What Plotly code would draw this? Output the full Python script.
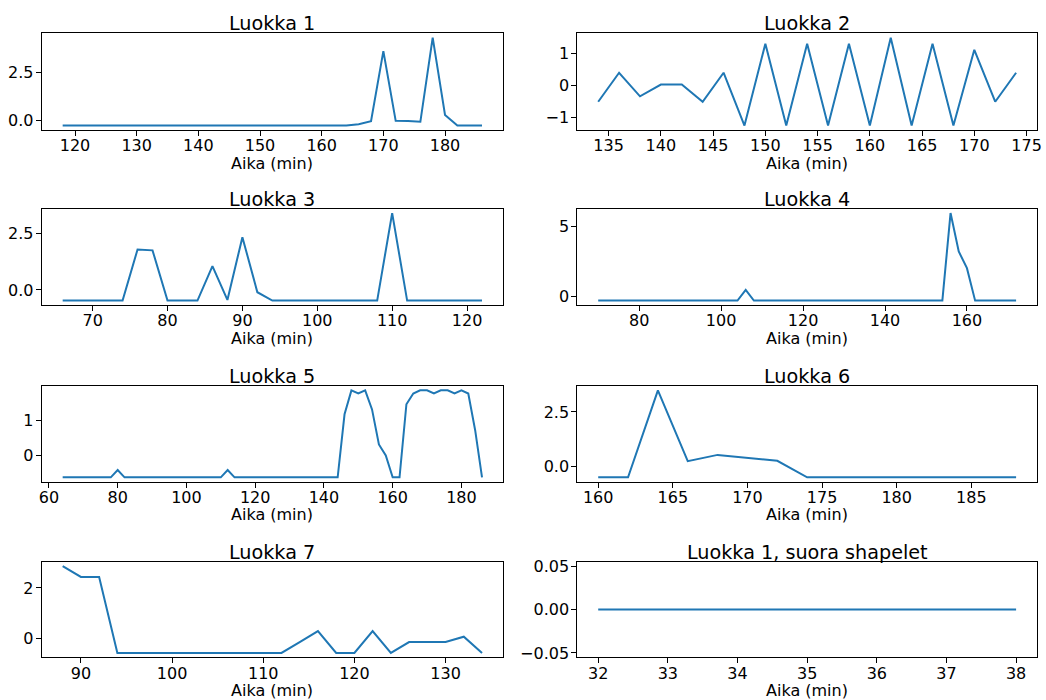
import plotly.graph_objects as go

titles = ["Luokka 1", "Luokka 2", "Luokka 3", "Luokka 4",
          "Luokka 5", "Luokka 6", "Luokka 7", "Luokka 1, suora shapelet"]
x_label = "Aika (min)"

t1 = list(range(118, 187, 2))
v1 = [-0.28] * 24 + [-0.21, -0.05, 3.64, -0.03, -0.04, -0.08, 4.35, 0.28, -0.28, -0.28, -0.28]

t2 = list(range(134, 175, 2))
v2 = [-0.51, 0.40, -0.34, 0.03, 0.03, -0.51, 0.40, -1.26, 1.31, -1.26, 1.31,
      -1.26, 1.31, -1.26, 1.50, -1.26, 1.31, -1.26, 1.12, -0.51, 0.40]

t3 = list(range(66, 123, 2))
v3 = ([-0.47] * 5 + [1.78, 1.74] + [-0.47] * 3 + [1.05, -0.44, 2.32, -0.10]
      + [-0.47] * 8 + [3.38] + [-0.47] * 6)

t4 = list(range(70, 173, 2))
v4 = [-0.28] * 18 + [0.48] + [-0.28] * 24 + [5.92, 3.20, 2.02] + [-0.28] * 6

t5 = list(range(64, 187, 2))
v5 = ([-0.63] * 8 + [-0.42] + [-0.63] * 15 + [-0.42] + [-0.63] * 16
      + [1.19, 1.88, 1.79, 1.88, 1.33, 0.32, 0.00, -0.63, -0.63, 1.48, 1.79,
         1.88, 1.88, 1.79, 1.88, 1.88, 1.79, 1.88, 1.79, 0.73, -0.63])

t6 = list(range(160, 189, 2))
v6 = [-0.50, -0.50, 3.49, 0.24, 0.53, 0.40, 0.26] + [-0.50] * 8

t7 = list(range(88, 135, 2))
v7 = ([2.86, 2.43, 2.43] + [-0.56] * 10
      + [-0.13, 0.30, -0.56, -0.56, 0.30, -0.56, -0.13, -0.13, -0.13, 0.08, -0.56])

t8 = [32, 33, 34, 35, 36, 37, 38]
v8 = [0, 0, 0, 0, 0, 0, 0]

series = [(t1, v1), (t2, v2), (t3, v3), (t4, v4), (t5, v5), (t6, v6), (t7, v7), (t8, v8)]

# tick settings: (x tick0, x dtick, y tick values, y tick format)
xticks = [(120, 10), (135, 5), (70, 10), (80, 20), (60, 20), (160, 5), (90, 10), (32, 1)]
yticks = [([0, 2.5], ".1f"), ([-1, 0, 1], "d"), ([0, 2.5], ".1f"), ([0, 5], "d"),
          ([0, 1], "d"), ([0, 2.5], ".1f"), ([0, 2], "d"), ([-0.05, 0, 0.05], ".2f")]

W, H = 1046, 700
col_px = [(41.7, 503.0), (577.3, 1037.0)]
row_px = [(33.3, 130.0), (208.7, 305.0), (386.0, 481.7), (561.7, 657.3)]

FONT = "DejaVu Sans"
fig = go.Figure()
layout = dict(
    width=W, height=H, margin=dict(l=0, r=0, t=0, b=0, autoexpand=False),
    paper_bgcolor="white", plot_bgcolor="white", showlegend=False,
    font=dict(family=FONT, size=16, color="black"),
)
annotations = []

for i, (t, v) in enumerate(series):
    r, c = divmod(i, 2)
    n = i + 1
    xa = "xaxis" if n == 1 else f"xaxis{n}"
    ya = "yaxis" if n == 1 else f"yaxis{n}"
    xr = "x" if n == 1 else f"x{n}"
    yr = "y" if n == 1 else f"y{n}"
    fig.add_trace(go.Scatter(x=t, y=v, mode="lines", xaxis=xr, yaxis=yr,
                             line=dict(color="#1f77b4", width=2), hoverinfo="skip"))
    x0, x1 = min(t), max(t)
    dx = (x1 - x0) * 0.05
    y0, y1 = min(v), max(v)
    if y1 == y0:
        yrng = [y0 - 0.055, y0 + 0.055]
    else:
        dy = (y1 - y0) * 0.05
        yrng = [y0 - dy, y1 + dy]
    cx0, cx1 = col_px[c]
    ry0, ry1 = row_px[r]
    axis_common = dict(showline=True, mirror=True, linecolor="black", linewidth=1,
                       ticks="outside", ticklen=5, tickwidth=1, tickcolor="black",
                       showgrid=False, zeroline=False, automargin=False,
                       tickfont=dict(family=FONT, size=16, color="black"))
    layout[xa] = dict(domain=[cx0 / W, cx1 / W], anchor=yr, range=[x0 - dx, x1 + dx],
                      tick0=xticks[i][0], dtick=xticks[i][1], tickmode="linear",
                      ticklabelstandoff=-4, **axis_common)
    layout[ya] = dict(domain=[1 - ry1 / H, 1 - ry0 / H], anchor=xr, range=yrng,
                      tickmode="array", tickvals=yticks[i][0], tickformat=yticks[i][1],
                      ticklabelstandoff=-1, **axis_common)
    annotations.append(dict(text=titles[i], xref=f"{xr} domain", yref=f"{yr} domain",
                            x=0.5, y=1, xanchor="center", yanchor="bottom", yshift=-4,
                            showarrow=False, font=dict(family=FONT, size=19.2, color="black")))
    annotations.append(dict(text=x_label, xref=f"{xr} domain", yref=f"{yr} domain",
                            x=0.5, y=0, xanchor="center", yanchor="middle", yshift=-33,
                            showarrow=False, font=dict(family=FONT, size=16, color="black")))

layout["annotations"] = annotations
fig.update_layout(**layout)
fig.write_html("out.html")
